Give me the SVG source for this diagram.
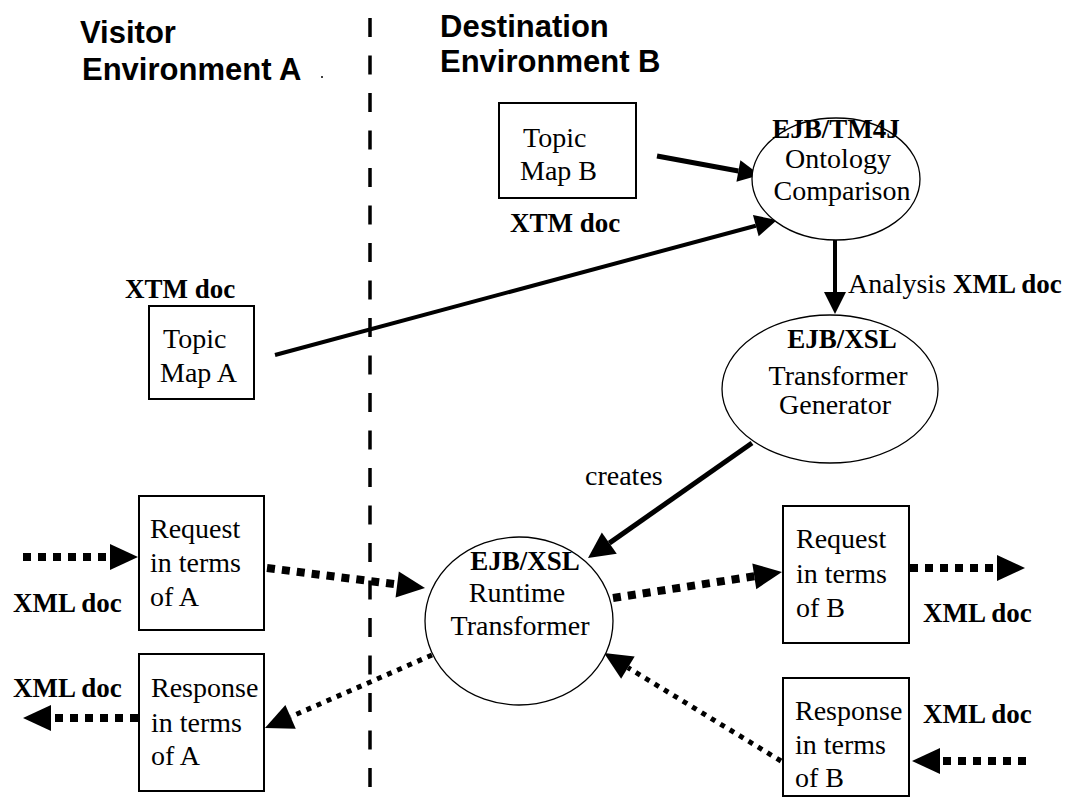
<svg xmlns="http://www.w3.org/2000/svg" width="1069" height="798" viewBox="0 0 1069 798">
<style>
.hdr{font-family:"Liberation Sans",Arial,sans-serif;font-weight:bold;font-size:31px;fill:#000}
.t{font-family:"Liberation Serif","Times New Roman",serif;font-size:28px;fill:#000}
.b{font-family:"Liberation Serif","Times New Roman",serif;font-size:27px;font-weight:bold;fill:#000}
.mid{text-anchor:middle}
.box{fill:#fff;stroke:#000;stroke-width:2}
.ell{fill:#fff;stroke:#000;stroke-width:1.3}
.solid{fill:none;stroke:#000}
.dot{fill:none;stroke:#000;stroke-width:8;stroke-dasharray:8 7}
.dotthin{fill:none;stroke:#000;stroke-width:5;stroke-dasharray:5 6}
.divider{fill:none;stroke:#000;stroke-width:3.5;stroke-dasharray:19 18.5}
</style>
<defs>
<marker id="ah" markerUnits="userSpaceOnUse" markerWidth="24" markerHeight="24" refX="0" refY="11" orient="auto" overflow="visible">
<path d="M0,0 L22,11 L0,22 z" fill="#000"/>
</marker>
<marker id="ahM" markerUnits="userSpaceOnUse" markerWidth="28" markerHeight="28" refX="0" refY="13" orient="auto" overflow="visible">
<path d="M0,0 L26,13 L0,26 z" fill="#000"/>
</marker>
<marker id="ahL" markerUnits="userSpaceOnUse" markerWidth="30" markerHeight="28" refX="0" refY="13" orient="auto" overflow="visible">
<path d="M0,0 L28,13 L0,26 z" fill="#000"/>
</marker>
</defs>
<rect width="1069" height="798" fill="#fff"/>

<g id="headers">
<text class="hdr" x="80" y="43">Visitor</text>
<text class="hdr" x="82" y="80">Environment A</text>
<circle cx="322" cy="77" r="1" fill="#000"/>
<text class="hdr" x="440" y="37">Destination</text>
<text class="hdr" x="440" y="72">Environment B</text>
</g>

<line id="divider" class="divider" x1="370" y1="18" x2="370" y2="798"/>

<g id="connectors">
<path class="solid" stroke-width="5" d="M657,156 L738.4,171" marker-end="url(#ah)"/>
<path class="solid" stroke-width="4" d="M275,355 L755.8,225.7" marker-end="url(#ah)"/>
<path class="solid" stroke-width="4" d="M835,240 L835,292" marker-end="url(#ah)"/>
<path class="solid" stroke-width="5" d="M752,443 L609.3,543.1" marker-end="url(#ahM)"/>
<path class="dot" d="M23,557 L110,557" marker-end="url(#ahL)"/>
<path class="dot" d="M267,568 L397.2,584.5" marker-end="url(#ahL)"/>
<path class="dot" d="M613,598 L754.3,576.3" marker-end="url(#ahL)"/>
<path class="dot" d="M910,568 L997,568" marker-end="url(#ahL)"/>
<path class="dotthin" d="M432,655 L290.6,716.8" marker-end="url(#ahL)"/>
<path class="dot" d="M138,718 L51,718" marker-end="url(#ahL)"/>
<path class="dotthin" d="M781,761 L627.9,667.6" marker-end="url(#ahL)"/>
<path class="dot" d="M1026,761 L940,761" marker-end="url(#ahL)"/>
<text class="t" x="848" y="293">Analysis <tspan font-weight="bold" font-size="27">XML doc</tspan></text>
<text class="t" x="585" y="485">creates</text>
<text class="b" x="13" y="612">XML doc</text>
<text class="b" x="13" y="697">XML doc</text>
<text class="b" x="923" y="622">XML doc</text>
<text class="b" x="923" y="723">XML doc</text>
</g>

<g id="topicMapB">
<rect class="box" x="499" y="103" width="137" height="95"/>
<text class="t" x="523" y="147">Topic</text>
<text class="t" x="520" y="180">Map B</text>
<text class="b" x="510" y="232">XTM doc</text>
</g>

<g id="topicMapA">
<text class="b" x="125" y="298">XTM doc</text>
<rect class="box" x="149" y="306" width="105" height="93"/>
<text class="t" x="163" y="348">Topic</text>
<text class="t" x="160" y="382">Map A</text>
</g>

<g id="ontology">
<ellipse class="ell" cx="836" cy="179" rx="84" ry="61"/>
<text class="b mid" x="836" y="138" font-size="25">EJB/TM4J</text>
<text class="t mid" x="838" y="168" font-size="27">Ontology</text>
<text class="t mid" x="842" y="200" font-size="27">Comparison</text>
</g>

<g id="generator">
<ellipse class="ell" cx="830" cy="389" rx="108" ry="74"/>
<text class="b mid" x="842" y="348">EJB/XSL</text>
<text class="t mid" x="838" y="385">Transformer</text>
<text class="t mid" x="835" y="414">Generator</text>
</g>

<g id="runtime">
<ellipse class="ell" cx="519" cy="621" rx="94" ry="84"/>
<text class="b mid" x="525" y="570">EJB/XSL</text>
<text class="t mid" x="517" y="602">Runtime</text>
<text class="t mid" x="520" y="635">Transformer</text>
</g>

<g id="requestA">
<rect class="box" x="139" y="496" width="125" height="134"/>
<text class="t" x="150" y="538">Request</text>
<text class="t" x="150" y="572">in terms</text>
<text class="t" x="150" y="606">of A</text>
</g>

<g id="responseA">
<rect class="box" x="139" y="654" width="125" height="137"/>
<text class="t" x="151" y="697">Response</text>
<text class="t" x="151" y="732">in terms</text>
<text class="t" x="151" y="765">of A</text>
</g>

<g id="requestB">
<rect class="box" x="783" y="506" width="126" height="137"/>
<text class="t" x="796" y="548">Request</text>
<text class="t" x="796" y="583">in terms</text>
<text class="t" x="796" y="617">of B</text>
</g>

<g id="responseB">
<rect class="box" x="783" y="678" width="126" height="118"/>
<text class="t" x="795" y="720">Response</text>
<text class="t" x="795" y="754">in terms</text>
<text class="t" x="795" y="787">of B</text>
</g>
</svg>
